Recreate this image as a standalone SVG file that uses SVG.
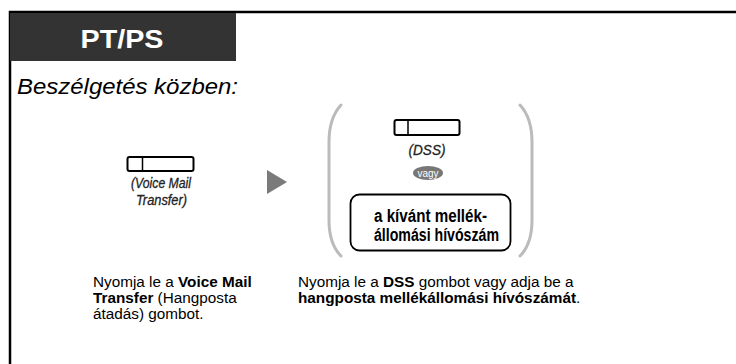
<svg xmlns="http://www.w3.org/2000/svg" width="736" height="364" viewBox="0 0 736 364">
<style>
.t{font-family:"Liberation Sans",Arial,sans-serif;fill:#000}
.b{font-weight:bold}
.key{fill:#fff;stroke:#000;stroke-width:2}
.lbl{font-family:"Liberation Sans",Arial,sans-serif;font-style:italic;font-size:14px;fill:#222;stroke:#222;stroke-width:0.3}
.br{fill:none;stroke:#bbbbbb;stroke-width:3;stroke-linecap:round}
.body{font-size:15.3px}
</style>
<rect width="736" height="364" fill="#fff"/>
<g id="frame">
<path d="M10,364 L10,12 L736,12" fill="none" stroke="#000" stroke-width="2.5"/>
<rect x="10" y="13" width="226" height="48" fill="#333333"/>
<text class="t b" x="122" y="48" font-size="25" style="fill:#fff" text-anchor="middle" textLength="83" lengthAdjust="spacingAndGlyphs">PT/PS</text>
<text class="t" x="17" y="94" font-size="22" font-style="italic" textLength="221" lengthAdjust="spacingAndGlyphs">Beszélgetés közben:</text>
</g>
<g id="node-vm">
<rect class="key" x="127.5" y="157" width="66" height="14" rx="2"/>
<line x1="142.5" y1="157" x2="142.5" y2="171" stroke="#000" stroke-width="1.5"/>
<text class="lbl" x="161" y="188" text-anchor="middle" textLength="60" lengthAdjust="spacingAndGlyphs">(Voice Mail</text>
<text class="lbl" x="161.5" y="205" text-anchor="middle" textLength="51" lengthAdjust="spacingAndGlyphs">Transfer)</text>
</g>
<g id="connectors">
<polygon points="267,170 287,182 267,194" fill="#7a7a7a"/>
</g>
<g id="node-brackets">
<path class="br" d="M341,105 Q329,118 329,142 L329,220 Q329,244 341,256"/>
<path class="br" d="M520,105 Q532,118 532,142 L532,220 Q532,244 520,256"/>
</g>
<g id="node-dss">
<rect class="key" x="394.5" y="120" width="65" height="15" rx="2"/>
<line x1="408" y1="120" x2="408" y2="135" stroke="#000" stroke-width="1.5"/>
<text class="lbl" x="427" y="155" text-anchor="middle" textLength="37" lengthAdjust="spacingAndGlyphs">(DSS)</text>
</g>
<g id="node-vagy">
<ellipse cx="428" cy="173" rx="15" ry="7" fill="#777777"/>
<text x="428" y="176.8" font-family="Liberation Sans,Arial,sans-serif" font-size="11" fill="#fff" text-anchor="middle" textLength="21" lengthAdjust="spacingAndGlyphs">vagy</text>
</g>
<g id="node-ext">
<rect x="350.5" y="194.5" width="160" height="56" rx="9" fill="#fff" stroke="#000" stroke-width="1.8"/>
<text class="t b" x="430.5" y="221.5" font-size="18" text-anchor="middle" textLength="113" lengthAdjust="spacingAndGlyphs">a kívánt mellék-</text>
<text class="t b" x="436.5" y="240.5" font-size="18" text-anchor="middle" textLength="125" lengthAdjust="spacingAndGlyphs">állomási hívószám</text>
</g>
<g id="desc-1">
<text class="t body" x="93" y="287">Nyomja le a <tspan class="b">Voice Mail</tspan></text>
<text class="t body" x="93" y="303"><tspan class="b">Transfer</tspan> (Hangposta</text>
<text class="t body" x="93" y="319">átadás) gombot.</text>
</g>
<g id="desc-2">
<text class="t body" x="298" y="287">Nyomja le a <tspan class="b">DSS</tspan> gombot vagy adja be a</text>
<text class="t body" x="298" y="303"><tspan class="b">hangposta mellékállomási hívószámát</tspan>.</text>
</g>
</svg>
